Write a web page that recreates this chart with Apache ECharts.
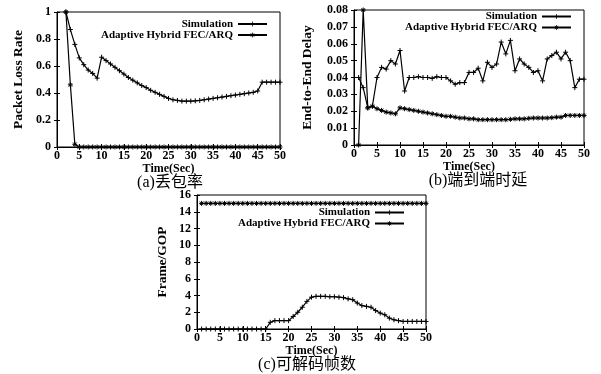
<!DOCTYPE html>
<html>
<head>
<meta charset="utf-8">
<script src="https://cdn.jsdelivr.net/npm/echarts@6/dist/echarts.min.js"></script>
<style>
  html, body { margin: 0; padding: 0; background: #fff; }
  #chart { width: 601px; height: 374px; }
</style>
</head>
<body>
<div id="chart"></div>
<script>
// time axis (Sec)
const timeSec = [1, 2, 3, 4, 5, 6, 7, 8, 9, 10, 11, 12, 13, 14, 15, 16, 17, 18, 19, 20,
  21, 22, 23, 24, 25, 26, 27, 28, 29, 30, 31, 32, 33, 34, 35, 36, 37, 38, 39, 40,
  41, 42, 43, 44, 45, 46, 47, 48, 49, 50]

// (a) packet loss rate
const lossSim = [null, 1.0, 0.87, 0.76, 0.66, 0.61, 0.57, 0.545, 0.51, 0.665,
  0.64, 0.615, 0.59, 0.565, 0.54, 0.515, 0.495, 0.475, 0.455, 0.44,
  0.42, 0.405, 0.39, 0.375, 0.36, 0.35, 0.345, 0.34, 0.34, 0.34,
  0.342, 0.345, 0.35, 0.355, 0.36, 0.365, 0.37, 0.375, 0.38, 0.385,
  0.39, 0.395, 0.40, 0.405, 0.415, 0.48, 0.48, 0.48, 0.48, 0.48]
const lossAdp = [null, 1.0, 0.46, 0.02, 0, 0, 0, 0, 0, 0,
  0, 0, 0, 0, 0, 0, 0, 0, 0, 0,
  0, 0, 0, 0, 0, 0, 0, 0, 0, 0,
  0, 0, 0, 0, 0, 0, 0, 0, 0, 0,
  0, 0, 0, 0, 0, 0, 0, 0, 0, 0]

// (b) end-to-end delay
const delaySim = [0.040, 0.034, 0.022, 0.023, 0.040, 0.046, 0.045, 0.050, 0.048, 0.056,
  0.032, 0.040, 0.040, 0.0405, 0.040, 0.040, 0.0395, 0.0405, 0.040, 0.040,
  0.038, 0.036, 0.037, 0.037, 0.043, 0.043, 0.0455, 0.038, 0.049, 0.046,
  0.048, 0.061, 0.054, 0.062, 0.044, 0.051, 0.048, 0.046, 0.043, 0.044,
  0.038, 0.051, 0.053, 0.055, 0.051, 0.055, 0.050, 0.034, 0.039, 0.039]
const delayAdp = [0, 0.08, 0.022, 0.023, 0.0215, 0.0205, 0.0195, 0.019, 0.0185, 0.022,
  0.0215, 0.021, 0.0205, 0.020, 0.0195, 0.019, 0.0185, 0.018, 0.0175, 0.017,
  0.017, 0.0165, 0.016, 0.016, 0.0155, 0.0155, 0.015, 0.015, 0.015, 0.015,
  0.015, 0.015, 0.015, 0.0152, 0.0155, 0.0155, 0.0155, 0.0158, 0.016, 0.016,
  0.016, 0.016, 0.0162, 0.0165, 0.0165, 0.0175, 0.0175, 0.0175, 0.0175, 0.0175]

// (c) decodable frames per GOP
const frameSim = [0, 0, 0, 0, 0, 0, 0, 0, 0, 0,
  0, 0, 0, 0, 0, 0.8, 1.0, 1.0, 1.0, 1.0,
  1.5, 2.0, 2.6, 3.3, 3.8, 3.9, 3.9, 3.9, 3.85, 3.85,
  3.8, 3.75, 3.6, 3.5, 3.1, 2.8, 2.7, 2.6, 2.2, 1.9,
  1.7, 1.3, 1.1, 1.0, 0.9, 0.9, 0.9, 0.9, 0.9, 0.9]
const frameAdp = [15, 15, 15, 15, 15, 15, 15, 15, 15, 15,
  15, 15, 15, 15, 15, 15, 15, 15, 15, 15,
  15, 15, 15, 15, 15, 15, 15, 15, 15, 15,
  15, 15, 15, 15, 15, 15, 15, 15, 15, 15,
  15, 15, 15, 15, 15, 15, 15, 15, 15, 15]

const simName = 'Simulation'
const adpName = 'Adaptive Hybrid FEC/ARQ'
const captions = ['(a)丢包率', '(b)端到端时延', '(c)可解码帧数']
const yNames = ['Packet Loss Rate', 'End-to-End Delay', 'Frame/GOP']

const serif = '"Liberation Serif", "Times New Roman", "Noto Sans CJK SC", serif'
const plusPath = 'path://M0,5L10,5M5,0L5,10'
const starPath = 'path://M0,5L10,5M5,0L5,10M1.5,1.5L8.5,8.5M8.5,1.5L1.5,8.5'

const grids = [
  { left: 57, top: 12, width: 223, height: 135 },
  { left: 354, top: 10, width: 230, height: 135 },
  { left: 197, top: 195, width: 229, height: 134 }
]
const yRanges = [
  { max: 1, interval: 0.2 },
  { max: 0.08, interval: 0.01 },
  { max: 16, interval: 2 }
]
const yNameGaps = [32, 40, 28]

const zip = (vals) => timeSec.map((t, i) => [t, vals[i]]).filter(p => p[1] !== null)

const myChart = echarts.init(document.getElementById('chart'), null, { renderer: 'canvas' })

const xAxis = []
const yAxis = []
grids.forEach((g, i) => {
  xAxis.push({
    gridIndex: i, type: 'value', min: 0, max: 50, interval: 5,
    name: 'Time(Sec)', nameLocation: 'middle', nameGap: 14.5,
    nameTextStyle: { fontFamily: serif, fontSize: 12, fontWeight: 'bold', color: '#000' },
    axisLine: { lineStyle: { color: '#000', width: 1 } },
    axisTick: { inside: true, length: 3, lineStyle: { color: '#000' } },
    axisLabel: { margin: 3, fontFamily: serif, fontSize: 12, fontWeight: 'bold', color: '#000' },
    splitLine: { show: false }
  })
  yAxis.push({
    gridIndex: i, type: 'value', min: 0, max: yRanges[i].max, interval: yRanges[i].interval,
    name: yNames[i], nameLocation: 'middle', nameGap: yNameGaps[i], nameRotate: 90,
    nameTextStyle: { fontFamily: serif, fontSize: 13.5, fontWeight: 'bold', color: '#000' },
    axisLine: { lineStyle: { color: '#000', width: 1 } },
    axisTick: { inside: true, length: 3, lineStyle: { color: '#000' } },
    axisLabel: { margin: 6, fontFamily: serif, fontSize: 12, fontWeight: 'bold', color: '#000' },
    splitLine: { show: false }
  })
})
// mirror ticks on top and right
grids.forEach((g, i) => {
  xAxis.push({
    gridIndex: i, type: 'value', position: 'top', min: 0, max: 50, interval: 5,
    axisLine: { show: false },
    axisTick: { inside: true, length: 3, lineStyle: { color: '#000' } },
    axisLabel: { show: false }, splitLine: { show: false }
  })
  yAxis.push({
    gridIndex: i, type: 'value', position: 'right', min: 0, max: yRanges[i].max, interval: yRanges[i].interval,
    axisLine: { show: false },
    axisTick: { inside: true, length: 3, lineStyle: { color: '#000' } },
    axisLabel: { show: false }, splitLine: { show: false }
  })
})

const makeLine = (name, idx, vals, adp) => ({
  name,
  type: 'line',
  xAxisIndex: idx,
  yAxisIndex: idx,
  data: zip(vals),
  symbol: adp ? starPath : plusPath,
  symbolSize: 5,
  showAllSymbol: true,
  lineStyle: { color: '#000', width: 1.2 },
  itemStyle: { color: '#000', borderColor: '#000', borderWidth: 1 },
  emphasis: { disabled: true },
  animation: false
})

const legendBox = (right, top) => ({
  orient: 'vertical', right, top,
  padding: 0,
  align: 'right',
  itemWidth: 29, itemHeight: 6, itemGap: 0,
  data: [simName, adpName],
  itemStyle: { borderWidth: 0.8 },
  textStyle: { fontFamily: serif, fontSize: 11, fontWeight: 'bold', color: '#000', lineHeight: 11 },
  selectedMode: false
})

const option = {
  backgroundColor: '#fff',
  animation: false,
  grid: grids.map(g => Object.assign({ show: true, borderColor: '#000', borderWidth: 1, backgroundColor: 'transparent' }, g)),
  xAxis,
  yAxis,
  legend: [legendBox(333, 18.5), legendBox(29, 11), legendBox(196, 207)],
  graphic: [
    { type: 'text', style: { text: captions[0], x: 170, y: 183, align: 'center', verticalAlign: 'middle', font: '16px ' + serif, fill: '#000' } },
    { type: 'text', style: { text: captions[1], x: 478, y: 181, align: 'center', verticalAlign: 'middle', font: '16px ' + serif, fill: '#000' } },
    { type: 'text', style: { text: captions[2], x: 307, y: 365, align: 'center', verticalAlign: 'middle', font: '16px ' + serif, fill: '#000' } }
  ],
  series: [
    makeLine(simName, 0, lossSim, false),
    makeLine(adpName, 0, lossAdp, true),
    makeLine(simName, 1, delaySim, false),
    makeLine(adpName, 1, delayAdp, true),
    makeLine(simName, 2, frameSim, false),
    makeLine(adpName, 2, frameAdp, true)
  ]
}

myChart.setOption(option)
window.addEventListener('resize', () => {
  myChart.resize()
})
</script>
</body>
</html>
